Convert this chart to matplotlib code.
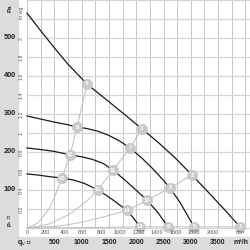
import matplotlib
matplotlib.use("Agg")
import matplotlib.pyplot as plt
from matplotlib.patches import Rectangle
from matplotlib import font_manager

# ---- data (q in m3/h, p in Pa) ----
c1_q = [0, 250, 500, 750, 1099, 1400, 1795, 2106, 2400, 2700, 3022, 3300, 3600, 3901]
c1_p = [564, 518, 473, 430, 378, 343, 297, 260, 225, 186, 139, 97, 51, 3]
c2_q = [0, 250, 500, 750, 916, 1100, 1300, 1500, 1700, 1886, 2100, 2300, 2500, 2619, 2800, 3059]
c2_p = [294, 286, 278, 271, 265, 261, 254, 243, 228, 210, 184, 156, 125, 105, 68, 3]
c3_q = [0, 250, 500, 788, 1000, 1200, 1400, 1575, 1800, 2015, 2198, 2400, 2582]
c3_p = [210, 206, 201, 192, 187, 180, 169, 152, 125, 97, 73, 40, 3]
c4_q = [0, 200, 400, 641, 850, 1050, 1300, 1450, 1600, 1832, 1950, 2070]
c4_p = [142, 139, 135, 131, 126, 117, 100, 86, 71, 46, 26, 3]

s1_q = [0, 200, 400, 500, 641, 788, 916, 1099]
s1_p = [0, 13, 50, 79, 131, 192, 265, 378]
s2_q = [0, 400, 800, 1100, 1300, 1575, 1886, 2106]
s2_p = [0, 10, 38, 72, 100, 152, 210, 260]
s3_q = [0, 600, 1000, 1400, 1832, 2198, 2619, 3022]
s3_p = [0, 5, 15, 29, 46, 73, 105, 139]
s4_q = [0, 1000, 2070, 2582, 3059, 3901]
s4_p = [0, 1, 3, 3, 3, 3]

pt_ids = list(range(1, 17))
pt_q = [3901, 3022, 2106, 1099, 3059, 2619, 1886, 916, 2582, 2198, 1575, 788, 2070, 1832, 1300, 641]
pt_p = [3, 139, 260, 378, 3, 105, 210, 265, 3, 73, 152, 192, 3, 46, 100, 131]

pa_ticks = [100, 200, 300, 400, 500]
inwg_ticks = [0.2, 0.4, 0.6, 0.8, 1, 1.2, 1.4, 1.6, 1.8, 2]
inwg_labels = ["0.2", "0.4", "0.6", "0.8", "1", "1.2", "1.4", "1.6", "1.8", "2"]
cfm_ticks = [0, 200, 400, 600, 800, 1000, 1200, 1400, 1600, 1800, 2000]
m3h_ticks = [500, 1000, 1500, 2000, 2500, 3000, 3500]

W = 250.0
PXQ = 0.0546   # px per m3/h
PXP = 0.381    # px per Pa
X0 = 27.0      # px of q=0
Y0 = 228.0     # px (from top) of p=0

fams = [f.name for f in font_manager.fontManager.ttflist]
narrow = "Liberation Sans Narrow" if "Liberation Sans Narrow" in fams else "Liberation Sans"

fig = plt.figure(figsize=(2.5, 2.5), dpi=100)
fig.patch.set_facecolor("white")
band = "#dcdcdc"
fig.patches.append(Rectangle((0, 0), 18 / W, 1, transform=fig.transFigure, color=band, zorder=0))
fig.patches.append(Rectangle((0, 0), 1, 13 / W, transform=fig.transFigure, color=band, zorder=0))

ax_l, ax_b = 18 / W, 13 / W
ax = fig.add_axes([ax_l, ax_b, 1 - ax_l, 1 - ax_b])
ax.set_facecolor("white")
xmin = (18 - X0) / PXQ
xmax = (W - X0) / PXQ
ymin = -(237 - Y0) / PXP
ymax = Y0 / PXP
ax.set_xlim(xmin, xmax)
ax.set_ylim(ymin, ymax)
ax.axis("off")

# grid
for k in range(0, 17):
    q = 250 * k
    ax.plot([q, q], [0, ymax], color="#b2b2b2", lw=0.5, zorder=1)
for k in range(0, 13):
    p = 49.8 * k
    ax.plot([0, xmax], [p, p], color="#d6d6d6", lw=0.9, zorder=1)

# system curves
for q, p in [(s1_q, s1_p), (s2_q, s2_p), (s3_q, s3_p), (s4_q, s4_p)]:
    ax.plot(q, p, color="#bdbdbd", lw=0.7, zorder=2)

# fan curves
for q, p in [(c1_q, c1_p), (c2_q, c2_p), (c3_q, c3_p), (c4_q, c4_p)]:
    ax.plot(q, p, color="#1a1a1a", lw=0.9, zorder=3, solid_joinstyle="round")

# operating points
ax.scatter(pt_q, pt_p, s=55, color="#cacaca", edgecolors="#c0c0c0", linewidths=0.4, zorder=4)
for i, q, p in zip(pt_ids, pt_q, pt_p):
    ax.text(q, p, str(i), color="white", fontsize=4.2, fontweight="bold",
            ha="center", va="center", zorder=5, family=narrow)

# left labels (Pa)
def fy(p):
    return 1 - (Y0 - p * PXP) / W

for v in pa_ticks:
    fig.text(10 / W, fy(v), str(v), ha="center", va="center", fontsize=5.3,
             fontweight="bold", color="#222222", family=narrow)
fig.text(10 / W, 1 - 8 / W, "Pa", ha="center", va="center", fontsize=4.5,
         fontweight="bold", rotation=90, color="#222222", family=narrow)
fig.text(10 / W, 1 - 220 / W, "p$_s$ ➢", ha="center", va="center", fontsize=4.5,
         fontweight="bold", rotation=90, color="#222222", family=[narrow, "DejaVu Sans"])

for v, s in zip(inwg_ticks, inwg_labels):
    fig.text(21 / W, fy(v * 249.09), s, ha="center", va="center", fontsize=3.8,
             rotation=90, color="#555555", family=narrow)
fig.text(21 / W, 1 - 13 / W, "in wg", ha="center", va="center", fontsize=3.8,
         rotation=90, color="#555555", family=narrow)

# bottom labels
for v in cfm_ticks:
    fig.text((X0 + v * 1.699 * PXQ) / W, 1 - 233 / W, str(v), ha="center", va="center",
             fontsize=4.0, color="#555555", family=narrow)
fig.text(240 / W, 1 - 233 / W, "cfm", ha="center", va="center", fontsize=4.0,
         color="#555555", family=narrow)
for v in m3h_ticks:
    fig.text((X0 + v * PXQ) / W, 1 - 243 / W, str(v), ha="center", va="center",
             fontsize=5.0, fontweight="bold", color="#222222", family=narrow)
fig.text(241 / W, 1 - 243 / W, "m³/h", ha="center", va="center", fontsize=5.0,
         fontweight="bold", color="#222222", family=narrow)
fig.text(25 / W, 1 - 243 / W, "q$_v$ ➢", ha="center", va="center", fontsize=5.0,
         fontweight="bold", color="#222222", family=[narrow, "DejaVu Sans"])

fig.savefig("out.png", dpi=100, facecolor="white")
